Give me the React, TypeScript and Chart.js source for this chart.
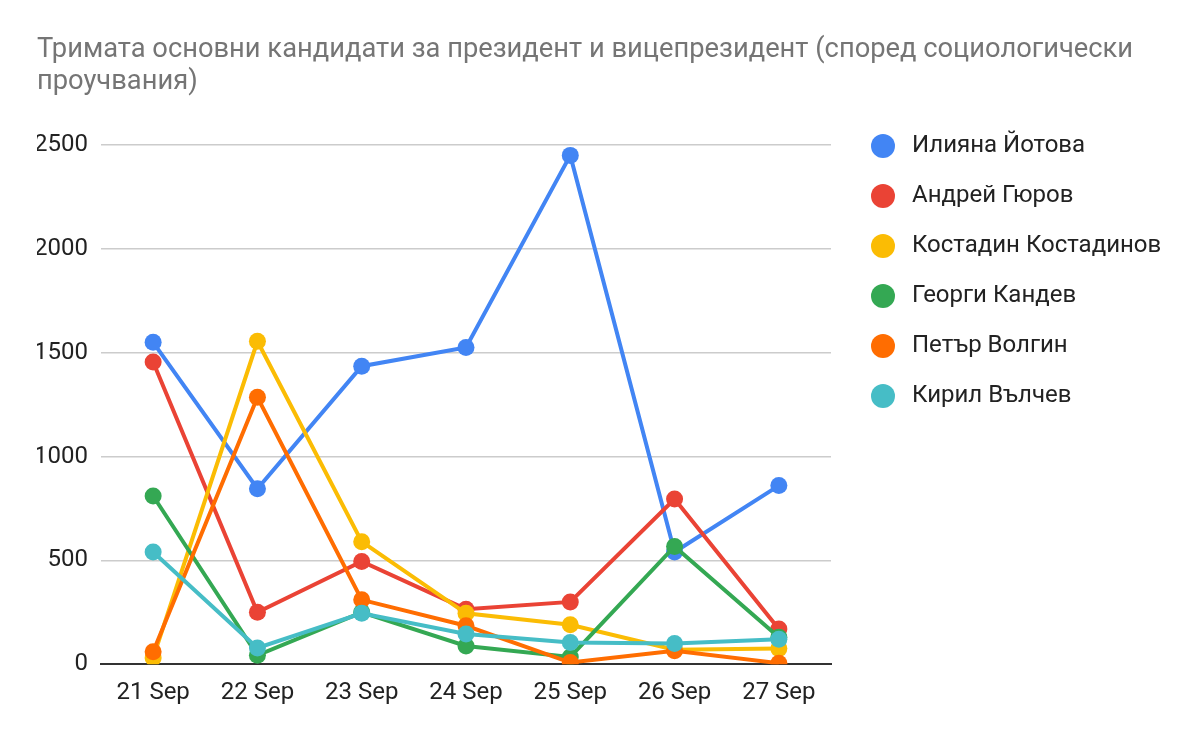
import { useEffect, useRef } from "react"
import { Chart, registerables } from "chart.js"

Chart.register(...registerables)

const days = ["21 Sep", "22 Sep", "23 Sep", "24 Sep", "25 Sep", "26 Sep", "27 Sep"]

const names = [
  "Илияна Йотова",
  "Андрей Гюров",
  "Костадин Костадинов",
  "Георги Кандев",
  "Петър Волгин",
  "Кирил Вълчев",
]

const colors = ["#4285F4", "#EA4335", "#FBBC04", "#34A853", "#FF6D01", "#46BDC6"]

const yotova = [1550, 845, 1435, 1525, 2450, 540, 860]
const gyurov = [1455, 250, 495, 265, 300, 795, 170]
const kostadinov = [30, 1555, 590, 245, 190, 70, 75]
const kandev = [810, 43, 250, 88, 35, 567, 130]
const volgin = [60, 1285, 310, 185, 8, 65, 5]
const valchev = [540, 78, 245, 145, 105, 100, 120]

const series = [yotova, gyurov, kostadinov, kandev, volgin, valchev]

const yTicks = [0, 500, 1000, 1500, 2000, 2500]

const titleLines = [
  "Тримата основни кандидати за президент и вицепрезидент (според социологически",
  "проучвания)",
]

// legend drawn by hand so the dot/text spacing matches the original
const sideLegend = {
  id: "sideLegend",
  afterDraw(chart: Chart) {
    const ctx = chart.ctx
    const x = chart.chartArea.right + 52
    let y = chart.chartArea.top + 1
    ctx.save()
    ctx.font = "24px Roboto"
    ctx.textBaseline = "middle"
    chart.data.datasets.forEach((ds) => {
      ctx.beginPath()
      ctx.fillStyle = ds.borderColor as string
      ctx.arc(x, y, 12, 0, Math.PI * 2)
      ctx.fill()
      ctx.fillStyle = "#222222"
      ctx.fillText(ds.label as string, x + 29, y)
      y += 50
    })
    ctx.restore()
  },
}

export default function PollChart() {
  const chartRef = useRef<HTMLCanvasElement>(null)
  const chartInstance = useRef<Chart | null>(null)

  useEffect(() => {
    if (!chartRef.current) return
    const ctx = chartRef.current.getContext("2d")
    if (!ctx) return
    if (chartInstance.current) chartInstance.current.destroy()

    Chart.defaults.font.family = "Roboto"

    chartInstance.current = new Chart(ctx, {
      type: "line",
      data: {
        labels: days,
        datasets: series.map((values, i) => ({
          label: names[i],
          data: values,
          borderColor: colors[i],
          backgroundColor: colors[i],
          pointBackgroundColor: colors[i],
          pointBorderColor: colors[i],
          borderWidth: 4,
          pointRadius: 8.5,
          pointBorderWidth: 0,
          tension: 0,
          order: series.length - i,
          yAxisID: "y",
        })),
      },
      options: {
        animation: false,
        responsive: true,
        maintainAspectRatio: false,
        layout: { padding: { top: 34, left: 37, right: 0, bottom: 21 } },
        scales: {
          x: {
            offset: true,
            grid: { display: false, drawTicks: false },
            border: { display: true, color: "#333333", width: 2 },
            ticks: { color: "#222222", font: { size: 24 }, padding: 14, maxRotation: 0 },
          },
          y: {
            min: 0,
            max: 2500,
            afterBuildTicks: (axis) => {
              axis.ticks = yTicks.map((v) => ({ value: v }))
            },
            afterFit: (axis) => {
              axis.width = 64
            },
            grid: {
              drawTicks: false,
              color: (c) => (c.tick && c.tick.value === 0 ? "#333333" : "#cccccc"),
              lineWidth: (c) => (c.tick && c.tick.value === 0 ? 2 : 1.5),
            },
            border: { display: false },
            ticks: {
              color: "#222222",
              font: { size: 24 },
              padding: 13,
              callback: (v) => String(v),
            },
          },
          legendSpace: {
            type: "linear",
            position: "right",
            display: true,
            grid: { display: false, drawTicks: false },
            border: { display: false },
            ticks: { display: false },
            afterFit: (axis) => {
              axis.width = 369
            },
          },
        },
        plugins: {
          legend: { display: false },
          tooltip: { enabled: false },
          title: {
            display: true,
            text: titleLines,
            align: "start",
            color: "#757575",
            font: { size: 27.3, weight: "normal", lineHeight: 1.172 },
            padding: { top: 0, bottom: 47 },
          },
        },
      },
      plugins: [sideLegend],
    })

    return () => {
      if (chartInstance.current) {
        chartInstance.current.destroy()
        chartInstance.current = null
      }
    }
  }, [])

  return (
    <div style={{ position: "fixed", left: 0, top: 0, width: 1200, height: 742, background: "#fff" }}>
      <canvas ref={chartRef} aria-label="Poll chart" role="img"></canvas>
    </div>
  )
}
